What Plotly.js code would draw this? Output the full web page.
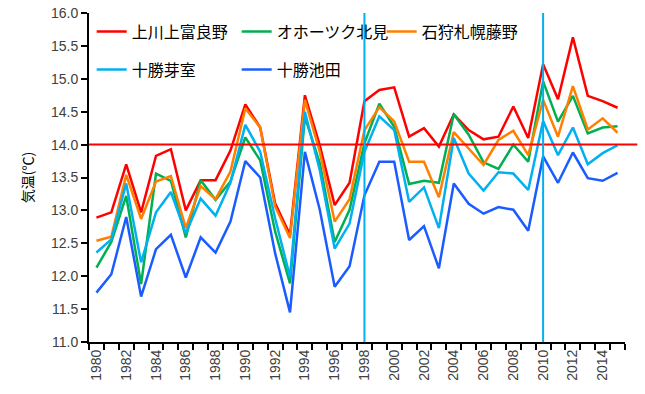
<!DOCTYPE html>
<html>
<head>
<meta charset="utf-8">
<script src="https://cdn.plot.ly/plotly-3.0.1.min.js"></script>
<style>html,body{margin:0;padding:0;background:#fff;} #chart{width:645px;height:394px;}</style>
</head>
<body>
<div id="chart"></div>
<script>
const years = [1980,1981,1982,1983,1984,1985,1986,1987,1988,1989,1990,1991,1992,1993,1994,1995,1996,1997,1998,1999,2000,2001,2002,2003,2004,2005,2006,2007,2008,2009,2010,2011,2012,2013,2014,2015];
const kamifurano = [12.89,12.97,13.70,12.97,13.83,13.93,13.00,13.46,13.46,13.91,14.61,14.26,13.11,12.63,14.75,13.99,13.08,13.42,14.66,14.83,14.87,14.12,14.25,13.97,14.46,14.22,14.08,14.12,14.58,14.10,15.22,14.69,15.63,14.74,14.66,14.56];
const kitami = [12.13,12.52,13.22,11.88,13.56,13.45,12.59,13.46,13.16,13.44,14.11,13.76,12.68,11.89,14.42,13.72,12.52,13.01,14.02,14.62,14.27,13.40,13.45,13.42,14.46,14.15,13.73,13.63,14.00,13.74,14.96,14.35,14.74,14.17,14.26,14.28];
const sapporo = [12.54,12.60,13.54,12.87,13.44,13.52,12.73,13.37,13.17,13.59,14.55,14.26,13.06,12.58,14.68,13.89,12.83,13.17,14.22,14.57,14.35,13.74,13.74,13.20,14.19,13.94,13.69,14.07,14.21,13.84,14.68,14.12,14.89,14.23,14.40,14.18];
const memuro = [12.36,12.56,13.41,12.21,12.97,13.28,12.65,13.18,12.92,13.42,14.30,13.89,12.88,11.99,14.50,13.61,12.42,12.80,13.89,14.43,14.22,13.13,13.35,12.73,14.10,13.56,13.30,13.58,13.56,13.31,14.36,13.84,14.26,13.70,13.87,13.99];
const ikeda = [11.75,12.03,12.90,11.69,12.41,12.63,11.98,12.59,12.36,12.83,13.75,13.50,12.35,11.45,13.89,13.01,11.84,12.15,13.23,13.74,13.74,12.55,12.76,12.12,13.41,13.10,12.95,13.05,13.01,12.69,13.82,13.42,13.88,13.49,13.45,13.57];
const seriesNames = ['上川上富良野','オホーツク北見','石狩札幌藤野','十勝芽室','十勝池田'];
const tickYears = [1980,1982,1984,1986,1988,1990,1992,1994,1996,1998,2000,2002,2004,2006,2008,2010,2012,2014];
const refLevel = [14.0];
const markYears = [1998, 2010];

const colors = ['#FF0000','#00B050','#FF8000','#00B0F0','#1A5CFF'];
const vals = [kamifurano, kitami, sapporo, memuro, ikeda];
const legendOf = ['legend','legend','legend','legend2','legend2'];

const traces = vals.map((v,i)=>({
  x: years, y: v, type:'scatter', mode:'lines', name: seriesNames[i],
  line:{color:colors[i], width:2.5}, legend: legendOf[i], hoverinfo:'skip'
}));

const shapes = [];
refLevel.forEach(r=>shapes.push({type:'line', xref:'paper', yref:'y', x0:0, x1:1.023, y0:r, y1:r, line:{color:'#FF0000', width:2}}));
markYears.forEach(m=>shapes.push({type:'line', xref:'x', yref:'y', x0:m, x1:m, y0:11, y1:16, line:{color:'#00B0F0', width:2}}));

const legFont = {family:'"Noto Sans CJK JP", sans-serif', size:16, color:'#000'};
const layout = {
  width:645, height:394,
  margin:{l:89, r:20, t:13, b:52},
  paper_bgcolor:'#fff', plot_bgcolor:'#fff',
  font:{family:'"Liberation Sans", Arial, sans-serif', size:14, color:'#404040'},
  xaxis:{
    range:[1979.5, 2015.5], tickmode:'array', tickvals:tickYears, ticktext:tickYears.map(String),
    tickangle:-90, ticks:'', showgrid:false, zeroline:false,
    showline:true, linecolor:'#000', linewidth:2,
    tickfont:{family:'"Liberation Sans", Arial, sans-serif', size:14, color:'#404040'},
    minor:{tick0:1979.5, dtick:1, ticks:'outside', ticklen:6, tickcolor:'#000', tickwidth:2, showgrid:false}
  },
  yaxis:{
    range:[11,16], dtick:0.5, tick0:11, tickformat:'.1f', ticks:'outside', ticklen:6, tickcolor:'#000', tickwidth:2,
    showgrid:false, zeroline:false, showline:true, linecolor:'#000', linewidth:2,
    tickfont:{family:'"Liberation Sans", Arial, sans-serif', size:14, color:'#404040'},
    title:{text:'気温(℃)', font:{family:'"Noto Sans CJK JP", sans-serif', size:14, color:'#000'}, standoff:14}
  },
  showlegend:true,
  legend:{orientation:'h', x:0.005, y:0.995, xanchor:'left', yanchor:'top', bgcolor:'rgba(0,0,0,0)',
    entrywidth:100, entrywidthmode:'pixels', itemwidth:30, font:legFont, traceorder:'normal'},
  legend2:{orientation:'h', x:0.005, y:0.88, xanchor:'left', yanchor:'top', bgcolor:'rgba(0,0,0,0)',
    entrywidth:100, entrywidthmode:'pixels', itemwidth:30, font:legFont, traceorder:'normal'},
  shapes: shapes
};
Plotly.newPlot('chart', traces, layout, {staticPlot:true, displayModeBar:false});
</script>
</body>
</html>
